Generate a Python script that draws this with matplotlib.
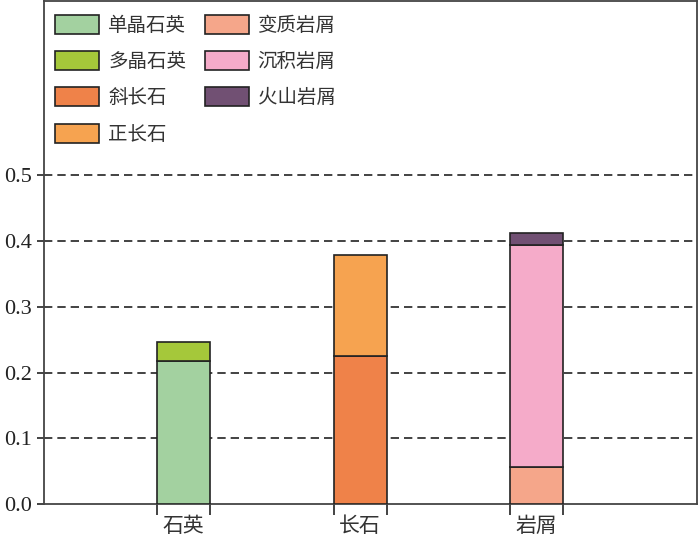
import numpy as np
import matplotlib
matplotlib.use("Agg")
import matplotlib.pyplot as plt

plt.rcParams['font.family'] = ['Noto Sans CJK SC', 'DejaVu Sans']

# 数据
categories = ['石英', '长石', '岩屑']
series_names = ['单晶石英', '多晶石英', '斜长石', '正长石', '变质岩屑', '沉积岩屑', '火山岩屑']
# 每个组分所属的类别(0=石英, 1=长石, 2=岩屑)
series_cat = [0, 0, 1, 1, 2, 2, 2]
series_vals = [0.217, 0.029, 0.225, 0.154, 0.057, 0.337, 0.018]
colors = ['#a3d1a0', '#a5c83a', '#ef8249', '#f6a350', '#f5a68a', '#f5abc9', '#715073']
yticks = [0.0, 0.1, 0.2, 0.3, 0.4, 0.5]

fig = plt.figure(figsize=(7, 5.48), dpi=100)
ax = fig.add_axes([0.063, 0.080, 0.933, 0.918])

x = np.arange(len(categories))
width = 0.3
bottoms = np.zeros(len(categories))

#堆叠柱
for name, cat, val, col in zip(series_names, series_cat, series_vals, colors):
    ax.bar(x[cat], val, width, bottom=bottoms[cat], color=col,
           edgecolor='#222222', linewidth=1.2, label=name, zorder=3)
    bottoms[cat] += val

#网格与坐标轴
for t in yticks[1:]:
    ax.axhline(t, color='#222222', linestyle=(0, (5, 3)), linewidth=1.2, zorder=1)

ax.set_xlim(-0.789, 2.909)
ax.set_ylim(0, 0.765)
ax.set_yticks(yticks)
ax.set_yticklabels([f'{t:.1f}' for t in yticks], family='Liberation Serif', fontsize=16,
                   color='#222222')
ax.tick_params(axis='y', length=5, width=1.2, pad=4, color='#222222')

ax.set_xticks(x)
ax.set_xticklabels(categories, fontsize=15, color='#333333')
ax.tick_params(axis='x', which='major', length=0, pad=8)
edges = np.concatenate([x - width / 2, x + width / 2])
ax.set_xticks(edges, minor=True)
ax.tick_params(axis='x', which='minor', length=8, width=1.2, direction='out', color='#222222')

for s in ax.spines.values():
    s.set_color('#444444')
    s.set_linewidth(1.3)

leg = ax.legend(ncol=2, loc='upper left', bbox_to_anchor=(0.017, 0.973),
                frameon=False, fontsize=14, borderpad=0, borderaxespad=0,
                handlelength=2.27, handleheight=1.13, handletextpad=0.45,
                labelspacing=0.78, columnspacing=0.96)
for t in leg.get_texts():
    t.set_color('#333333')

fig.savefig('out.png', dpi=100)
